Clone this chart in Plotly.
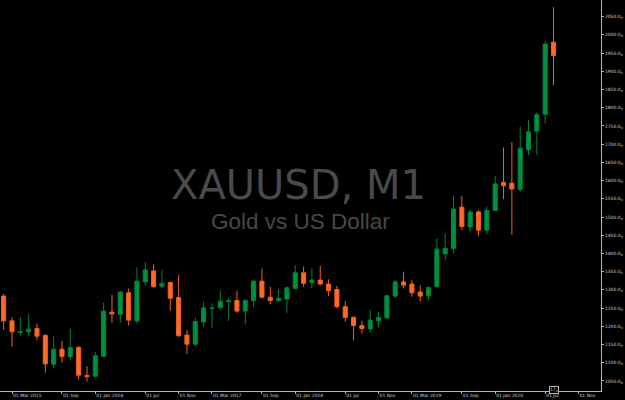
import plotly.graph_objects as go

months = [
    "2015-02", "2015-03", "2015-04", "2015-05", "2015-06", "2015-07", "2015-08", "2015-09", "2015-10", "2015-11", "2015-12",
    "2016-01", "2016-02", "2016-03", "2016-04", "2016-05", "2016-06", "2016-07", "2016-08", "2016-09", "2016-10", "2016-11", "2016-12",
    "2017-01", "2017-02", "2017-03", "2017-04", "2017-05", "2017-06", "2017-07", "2017-08", "2017-09", "2017-10", "2017-11", "2017-12",
    "2018-01", "2018-02", "2018-03", "2018-04", "2018-05", "2018-06", "2018-07", "2018-08", "2018-09", "2018-10", "2018-11", "2018-12",
    "2019-01", "2019-02", "2019-03", "2019-04", "2019-05", "2019-06", "2019-07", "2019-08", "2019-09", "2019-10", "2019-11", "2019-12",
    "2020-01", "2020-02", "2020-03", "2020-04", "2020-05", "2020-06", "2020-07", "2020-08",
]

opens = [
    1283, 1215, 1184, 1185, 1194, 1175, 1096, 1137, 1117, 1142, 1065,
    1063, 1118, 1239, 1233, 1292, 1215, 1322, 1352, 1310, 1320, 1279, 1176,
    1151, 1212, 1249, 1251, 1268, 1271, 1242, 1270, 1324, 1280, 1271, 1275,
    1304, 1347, 1320, 1327, 1316, 1301, 1254, 1225, 1202, 1193, 1215, 1223,
    1283, 1322, 1316, 1294, 1284, 1309, 1399, 1414, 1527, 1473, 1514, 1464,
    1518, 1595, 1593, 1576, 1685, 1736, 1782, 1980,
]
highs = [
    1289, 1225, 1226, 1234, 1208, 1179, 1172, 1160, 1193, 1146, 1091,
    1130, 1265, 1286, 1298, 1304, 1362, 1377, 1370, 1355, 1323, 1341, 1190,
    1224, 1268, 1263, 1298, 1277, 1298, 1274, 1329, 1359, 1308, 1302, 1309,
    1368, 1364, 1359, 1366, 1329, 1311, 1269, 1226, 1215, 1245, 1240, 1286,
    1327, 1350, 1327, 1313, 1308, 1442, 1455, 1558, 1558, 1521, 1519, 1528,
    1613, 1691, 1706, 1748, 1766, 1787, 1984, 2076,
]
lows = [
    1190, 1144, 1176, 1172, 1162, 1073, 1085, 1100, 1108, 1054, 1048,
    1062, 1117, 1210, 1210, 1202, 1208, 1312, 1306, 1304, 1243, 1172, 1124,
    1147, 1199, 1196, 1245, 1215, 1237, 1205, 1252, 1277, 1261, 1268, 1237,
    1302, 1309, 1304, 1312, 1283, 1249, 1213, 1161, 1181, 1183, 1196, 1222,
    1277, 1304, 1281, 1268, 1272, 1308, 1382, 1402, 1464, 1460, 1448, 1453,
    1518, 1549, 1451, 1569, 1670, 1670, 1757, 1862,
]
closes = [
    1215, 1185, 1185, 1192, 1173, 1097, 1137, 1117, 1142, 1066, 1062,
    1119, 1242, 1234, 1294, 1217, 1324, 1355, 1309, 1318, 1277, 1174, 1151,
    1213, 1251, 1250, 1269, 1270, 1242, 1271, 1324, 1280, 1271, 1277, 1306,
    1347, 1318, 1327, 1316, 1298, 1254, 1224, 1202, 1194, 1217, 1224, 1284,
    1322, 1313, 1292, 1283, 1307, 1412, 1414, 1522, 1474, 1514, 1464, 1518,
    1591, 1586, 1577, 1689, 1734, 1781, 1975, 1943,
]

tick_months = ["2015-03", "2015-09", "2016-01", "2016-07", "2016-11", "2017-03", "2017-09",
               "2018-01", "2018-07", "2018-11", "2019-03", "2019-09", "2020-01", "2020-07", "2020-11"]
tick_labels = ["01 Mar 2015", "01 Sep", "01 Jan 2016", "01 Jul", "01 Nov", "01 Mar 2017", "01 Sep",
               "01 Jan 2018", "01 Jul", "01 Nov", "01 Mar 2019", "01 Sep", "01 Jan 2020", "01 Jul", "01 Nov"]

price_ticks = list(range(1050, 2051, 50))
price_labels = [f"{p}.0<sub>0</sub>" for p in price_ticks]

symbol = "XAUUSD, M1"
description = "Gold vs US Dollar"
shift_label = "17<sub>0</sub>"


def month_pos(m):
    y, mo = m.split("-")
    y0, m0 = months[0].split("-")
    return (int(y) - int(y0)) * 12 + (int(mo) - int(m0))


xs = [month_pos(m) for m in months]
tickvals = [month_pos(m) for m in tick_months]

fig = go.Figure()
fig.add_trace(go.Candlestick(
    x=xs, open=opens, high=highs, low=lows, close=closes,
    increasing=dict(line=dict(color="#00853b", width=1), fillcolor="#00913f"),
    decreasing=dict(line=dict(color="#f2621f", width=1), fillcolor="#ff6a28"),
    whiskerwidth=0,
    hoverinfo="skip",
    showlegend=False,
))

axis_col = "#b4b4b4"
tick_font = dict(family="DejaVu Sans", size=4.5, color="#d2d2d2")

fig.update_layout(
    width=625, height=400,
    margin=dict(l=0, r=24, t=0, b=9),
    paper_bgcolor="#000000",
    plot_bgcolor="#000000",
    showlegend=False,
    xaxis=dict(
        range=[-0.44, 71.7],
        rangeslider=dict(visible=False),
        showgrid=False, zeroline=False,
        tickmode="array", tickvals=tickvals, ticktext=tick_labels,
        ticks="outside", ticklen=2, tickcolor=axis_col,
        ticklabelposition="outside right",
        tickfont=tick_font,
        showline=True, linecolor=axis_col, linewidth=1,
        fixedrange=True,
    ),
    yaxis=dict(
        range=[1022.5, 2095.8],
        side="right",
        showgrid=False, zeroline=False,
        tickmode="array", tickvals=price_ticks, ticktext=price_labels,
        ticks="outside", ticklen=2, tickcolor=axis_col,
        tickfont=tick_font,
        showline=True, linecolor=axis_col, linewidth=1,
        fixedrange=True,
    ),
    annotations=[
        dict(text=symbol, xref="paper", yref="paper", x=0.4975, y=0.527,
             xanchor="center", yanchor="middle", showarrow=False,
             font=dict(family="DejaVu Sans", size=40, color="#4a4a4a")),
        dict(text=description, xref="paper", yref="paper", x=0.4995, y=0.433,
             xanchor="center", yanchor="middle", showarrow=False,
             font=dict(family="Liberation Sans", size=22.5, color="#484848")),
        dict(text=shift_label, xref="x", yref="paper", x=month_pos("2020-08"), y=0,
             xanchor="center", yanchor="middle", yshift=1.5, showarrow=False,
             bgcolor="#000000", bordercolor=axis_col, borderwidth=1, borderpad=0,
             font=dict(family="DejaVu Sans", size=4.5, color="#d2d2d2")),
    ],
)

fig.write_html(
    "out.html",
    config={"displayModeBar": False},
    post_script="document.body.style.margin='0';document.body.style.background='#000';document.body.style.overflow='hidden';",
)
